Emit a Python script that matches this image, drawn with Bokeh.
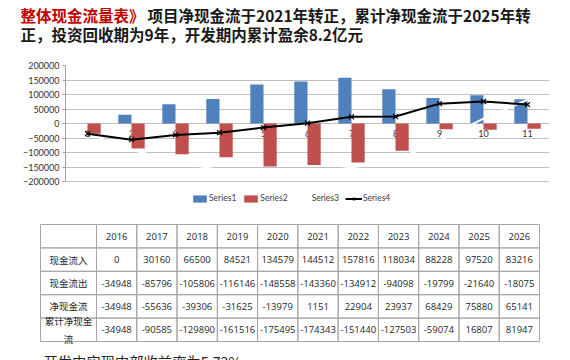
from bokeh.plotting import figure
from bokeh.models import (Range1d, FactorRange, ColumnDataSource, Legend, LegendItem,
                          FixedTicker, BasicTickFormatter)
from bokeh.transform import dodge
from bokeh.layouts import column
from bokeh.embed import file_html
from bokeh.resources import INLINE
from bokeh.core.properties import value

# ---------------- data ----------------
categories = ["1", "2", "3", "4", "5", "6", "7", "8", "9", "10", "11"]
years = ["2016", "2017", "2018", "2019", "2020", "2021", "2022", "2023", "2024", "2025", "2026"]
cash_in = [0, 30160, 66500, 84521, 134579, 144512, 157816, 118034, 88228, 97520, 83216]
cash_out = [-34948, -85796, -105806, -116146, -148558, -143360, -134912, -94098, -19799, -21640, -18075]
net_cash = [-34948, -55636, -39306, -31625, -13979, 1151, 22904, 23937, 68429, 75880, 65141]
cum_net = [-34948, -90585, -129890, -161516, -175495, -174343, -151440, -127503, -59074, 16807, 81947]
row_labels = ["现金流入", "现金流出", "净现金流", "累计净现金\n流"]
series_names = ["Series1", "Series2", "Series3", "Series4"]
y_ticks = [-200000, -150000, -100000, -50000, 0, 50000, 100000, 150000, 200000]
title_red = "整体现金流量表》"
title_black = "项目净现金流于2021年转正，累计净现金流于2025年转"
title_line2 = "正，投资回收期为9年，开发期内累计盈余8.2亿元"
footer = "开发中实现内部收益率为5.72%"

W = 570
CJK = value("Noto Sans CJK SC")
LAT = value("Lato")
NUM = value("Open Sans")
TXT = "#262626"


def blank(fig):
    fig.axis.visible = False
    fig.grid.visible = False
    fig.outline_line_color = None
    return fig


# ---------------- title ----------------
TH = 52
t = blank(figure(width=W, height=TH, x_range=Range1d(0, W), y_range=Range1d(TH, 0),
                 x_axis_location=None, y_axis_location=None, frame_align=False,
                 output_backend="svg", toolbar_location=None, min_border=0))
fs = 15.5
t.text(x=[20], y=[14], text=[title_red], text_font=CJK, text_font_style="bold",
       text_font_size=f"{fs}px", text_color="#c00000", text_baseline="middle")
t.text(x=[20 + fs * len(title_red) + 3], y=[14], text=[title_black], text_font=CJK,
       text_font_style="bold", text_font_size=f"{fs}px", text_color="#1a1a1a",
       text_baseline="middle")
t.text(x=[20], y=[33], text=[title_line2], text_font=CJK, text_font_style="bold",
       text_font_size=f"{fs}px", text_color="#1a1a1a", text_baseline="middle")

# ---------------- chart ----------------
CH = 164
top_b, frame_h, axis_h = 13, 143, 116          # pixels
ymax = max(y_ticks)
ymin = min(y_ticks)
per_px = (ymax - ymin) / axis_h
p = figure(width=W, height=CH, x_range=FactorRange(*categories, range_padding=0),
           y_range=Range1d(ymin - (frame_h - axis_h) * per_px, ymax),
           x_axis_location=None, frame_align=False,
           output_backend="svg", toolbar_location=None,
           min_border_top=top_b, min_border_left=65, min_border_right=21,
           min_border_bottom=CH - top_b - frame_h)
p.outline_line_color = None
p.xgrid.visible = False
p.ygrid.grid_line_color = "#bfbfbf"
p.ygrid.grid_line_width = 1
p.yaxis.ticker = FixedTicker(ticks=y_ticks)
p.yaxis.bounds = (ymin, ymax)
p.yaxis.formatter = BasicTickFormatter(use_scientific=False)
p.yaxis.axis_line_color = "#a0a0a0"
p.yaxis.major_tick_line_color = "#a0a0a0"
p.yaxis.major_tick_out = 3
p.yaxis.major_tick_in = 0
p.yaxis.minor_tick_line_color = None
p.yaxis.major_label_standoff = 3
p.yaxis.major_label_text_font = "Lato"
p.yaxis.major_label_text_font_size = "9px"
p.yaxis.major_label_text_color = "#333333"

src = ColumnDataSource(dict(cat=categories, cin=cash_in, cout=cash_out,
                            net=net_cash, cum=cum_net, zero=[0] * len(categories)))

p.text(x="cat", y="zero", text="cat", source=src, y_offset=10, text_align="center",
       text_baseline="middle", text_font=LAT, text_font_size="9px", text_color="#333333")

b1 = p.vbar(x=dodge("cat", -0.15, range=p.x_range), top="cin", bottom=0, width=0.3,
            source=src, fill_color="#4f81bd", line_color=None)
b2 = p.vbar(x=dodge("cat", 0.15, range=p.x_range), top="cout", bottom=0, width=0.3,
            source=src, fill_color="#c0504d", line_color=None)
l3 = p.line(x="cat", y="cum", source=src, line_color="white", line_width=2)
l4 = p.line(x="cat", y="net", source=src, line_color="black", line_width=2)
m4 = p.scatter(x="cat", y="net", source=src, marker="x", size=7,
               line_color="black", line_width=1.2)

legend = Legend(items=[LegendItem(label=series_names[0], renderers=[b1]),
                       LegendItem(label=series_names[1], renderers=[b2]),
                       LegendItem(label=series_names[2], renderers=[l3]),
                       LegendItem(label=series_names[3], renderers=[l4, m4])],
                orientation="horizontal", location=(126, 5),
                glyph_width=17, glyph_height=9, label_height=9, label_standoff=1,
                spacing=6, padding=0, margin=0,
                label_text_font="Lato", label_text_font_size="8.5px",
                label_text_color="#404040",
                border_line_color=None, background_fill_alpha=0)
p.add_layout(legend)

# ---------------- table ----------------
TB_TOP = TH + CH
TBH = 360 - TB_TOP
tb = blank(figure(width=W, height=TBH, x_range=Range1d(0, W),
                  y_range=Range1d(TB_TOP + TBH, TB_TOP),
                  x_axis_location=None, y_axis_location=None, frame_align=False,
                  output_backend="svg", toolbar_location=None, min_border=0))
x0, w0, x_end = 40, 56, 539
cw = (x_end - x0 - w0) / len(years)
y0, rh = 224, 23.4
lefts = [x0] + [x0 + w0 + i * cw for i in range(len(years))]
rights = [x0 + w0] + [x0 + w0 + (i + 1) * cw for i in range(len(years))]
nrows = 1 + len(row_labels)

ql, qr, qt, qb = [], [], [], []
for r in range(nrows):
    for c in range(len(lefts)):
        ql.append(lefts[c]); qr.append(rights[c])
        qt.append(y0 + r * rh); qb.append(y0 + (r + 1) * rh)
tb.quad(left=ql, right=qr, top=qt, bottom=qb, fill_alpha=0,
        line_color="#a6a6a6", line_width=1)

cx = [(a + b) / 2 for a, b in zip(lefts, rights)]
cy = [y0 + (r + 0.5) * rh for r in range(nrows)]

tb.text(x=cx[1:], y=[cy[0]] * len(years), text=years, text_align="center",
        text_baseline="middle", text_font=NUM, text_font_size="9.5px", text_color=TXT)
tb.text(x=[cx[0]] * len(row_labels), y=cy[1:], text=row_labels, text_align="center",
        text_baseline="middle", text_font=CJK, text_font_size="9.5px",
        text_color=TXT, text_line_height=1.25)
rows = [cash_in, cash_out, net_cash, cum_net]
vx, vy, vt = [], [], []
for r, vals in enumerate(rows):
    for c, v in enumerate(vals):
        vx.append(cx[c + 1]); vy.append(cy[r + 1]); vt.append(str(v))
tb.text(x=vx, y=vy, text=vt, text_align="center", text_baseline="middle",
        text_font=NUM, text_font_size="9.5px", text_color=TXT)

# footer line (partly below the visible slide area, as in the reference)
tb.text(x=[43], y=[361], text=[footer], text_baseline="middle", text_font=CJK,
        text_font_size="14.3px", text_color=TXT)

layout = column(t, p, tb, spacing=0)
open("out.html", "w").write(file_html(layout, INLINE))
